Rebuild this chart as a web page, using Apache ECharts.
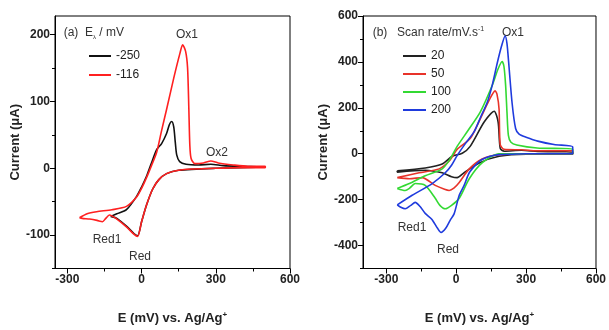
<!DOCTYPE html>
<html>
<head>
<meta charset="utf-8">
<script src="https://cdn.jsdelivr.net/npm/echarts@6/dist/echarts.min.js"></script>
<style>
  html, body { margin: 0; padding: 0; background: #fff; }
  #chart { width: 609px; height: 330px; }
</style>
</head>
<body>
<div id="chart"></div>
<script>
// [E (mV), I (uA)] - anodic branch left->right, then cathodic branch back
const curveA250 = [
  [-125, -72], [-100, -68], [-61, -62], [-20, -42], [0, -28], [20, -12], [40, 8],
  [61, 28], [81, 37], [101, 52], [113, 66], [122, 70], [130, 62], [136, 40], [142, 20],
  [154, 10], [180, 6], [230, 5], [280, 6], [330, 4], [400, 3], [500, 2],
  [500, 1], [300, 0], [150, -3], [101, -8], [70, -17], [45, -31], [20, -55], [0, -80],
  [-16, -101], [-30, -98], [-60, -87], [-100, -75], [-125, -72]
];
const curveA116 = [
  [-251, -74], [-220, -68], [-182, -65], [-120, -62], [-61, -57], [-20, -43], [0, -30],
  [20, -14], [40, 4], [61, 24], [80, 55], [101, 88], [130, 135], [155, 172], [166, 185],
  [178, 175], [186, 150], [191, 90], [195, 35], [200, 15], [215, 7], [250, 8], [280, 11],
  [310, 8], [370, 5], [430, 3], [500, 3],
  [500, 1], [400, 1], [300, 0], [200, -1], [150, -3], [101, -8], [70, -17], [45, -31],
  [20, -55], [0, -80], [-16, -102], [-30, -99], [-60, -88], [-100, -76], [-130, -70],
  [-145, -75], [-158, -80], [-180, -78], [-210, -76], [-240, -75], [-251, -74]
];
const curveB20 = [
  [-253, -74], [-133, -62], [-60, -45], [-17, -11], [26, 2], [60, 32], [120, 138],
  [163, 185], [180, 138], [189, 23], [206, 11], [280, 15], [350, 10], [500, 7],
  [500, -2], [300, -2], [184, -11], [99, -40], [34, -83], [4, -104], [-20, -100],
  [-60, -83], [-133, -72], [-253, -80], [-253, -74]
];
const curveB50 = [
  [-253, -104], [-159, -83], [-73, -66], [-30, -32], [4, 19], [60, 66], [103, 151],
  [140, 230], [167, 274], [175, 260], [184, 194], [189, 40], [206, 19], [280, 17],
  [347, 13], [500, 13],
  [500, -1], [300, -1], [184, -4], [111, -23], [56, -66], [13, -125], [-10, -150],
  [-30, -160], [-50, -155], [-90, -138], [-146, -104], [-201, -109], [-253, -104]
];
const curveB100 = [
  [-253, -151], [-201, -130], [-133, -96], [-60, -66], [-26, -23], [4, 32], [50, 100],
  [103, 181], [154, 296], [180, 370], [197, 402], [205, 380], [212, 300], [218, 180],
  [224, 80], [235, 50], [260, 38], [347, 25], [500, 20],
  [500, 0], [300, 0], [184, 0], [111, -40], [56, -109], [13, -194], [-20, -225],
  [-47, -240], [-70, -225], [-90, -194], [-133, -138], [-176, -130], [-200, -150],
  [-219, -160], [-253, -151]
];
const curveB200 = [
  [-253, -223], [-189, -181], [-103, -130], [-47, -83], [-20, -50], [4, -8], [40, 45],
  [77, 96], [105, 160], [133, 223], [155, 300], [176, 394], [195, 470], [210, 513],
  [218, 480], [225, 400], [240, 220], [255, 110], [270, 85], [300, 72], [350, 55],
  [420, 40], [500, 30],
  [500, 0], [400, 0], [300, 0], [240, -2], [184, -4], [146, -11], [111, -25], [90, -42],
  [56, -83], [34, -138], [13, -181], [-9, -262], [-26, -290], [-45, -325], [-65, -343],
  [-80, -325], [-105, -285], [-133, -260], [-155, -230], [-176, -212], [-195, -225],
  [-219, -240], [-240, -232], [-253, -223]
];

const xLabelsA = [-300, 0, 300, 600];
const xMinorA = [-150, 150, 450];
const yLabelsA = [-100, 0, 100, 200];
const yMinorA = [-150, -50, 50, 150];
const xLabelsB = [-300, 0, 300, 600];
const xMinorB = [-150, 150, 450];
const yLabelsB = [-400, -200, 0, 200, 400, 600];
const yMinorB = [-500, -300, -100, 100, 300, 500];

const FONT = 'Liberation Sans, Arial, sans-serif';

function mainAxis(grid, min, max, labels, extra) {
  return Object.assign({
    type: 'value', gridIndex: grid, min: min, max: max,
    axisLine: { show: true, onZero: false, lineStyle: { color: '#000', width: 1 } },
    axisTick: { show: true, customValues: labels, length: 5, lineStyle: { color: '#000' } },
    axisLabel: { customValues: labels, fontSize: 12, fontWeight: 'bold', color: '#222', fontFamily: FONT, margin: 5 },
    splitLine: { show: false },
    nameTextStyle: { fontSize: 13, fontWeight: 'bold', color: '#222', fontFamily: FONT,
      rich: { sup: { fontSize: 8, fontWeight: 'bold', verticalAlign: 'top', padding: [0, 0, 8, 0], fontFamily: FONT } } }
  }, extra);
}
function minorAxis(grid, min, max, minor, pos) {
  return {
    type: 'value', gridIndex: grid, min: min, max: max, position: pos,
    axisLine: { show: false, onZero: false },
    axisTick: { show: true, customValues: minor, length: 3, lineStyle: { color: '#000' } },
    axisLabel: { show: false },
    splitLine: { show: false }
  };
}
function cv(name, data, xi, color) {
  return {
    name: name, type: 'line', xAxisIndex: xi, yAxisIndex: xi, data: data,
    showSymbol: false, smooth: 0.25, lineStyle: { width: 1.6, color: color }, itemStyle: { color: color }
  };
}
function label(text, x, y, align) {
  return {
    type: 'text', x: x, y: y, silent: true,
    style: { text: text, fill: '#333', font: '12px ' + FONT, align: align || 'center', verticalAlign: 'middle' }
  };
}

const chart = echarts.init(document.getElementById('chart'));
chart.setOption({
  animation: false,
  grid: [
    { left: 55, top: 16, right: 319, bottom: 54, show: true, borderColor: '#000', borderWidth: 1 },
    { left: 363, top: 16, right: 11, bottom: 54, show: true, borderColor: '#000', borderWidth: 1 }
  ],
  xAxis: [
    mainAxis(0, -350, 600, xLabelsA, { position: 'bottom', name: 'E (mV) vs. Ag/Ag{sup|+}', nameLocation: 'middle', nameGap: 42 }),
    minorAxis(0, -350, 600, xMinorA, 'bottom'),
    mainAxis(1, -400, 600, xLabelsB, { position: 'bottom', name: 'E (mV) vs. Ag/Ag{sup|+}', nameLocation: 'middle', nameGap: 42 }),
    minorAxis(1, -400, 600, xMinorB, 'bottom')
  ],
  yAxis: [
    mainAxis(0, -150, 228, yLabelsA, { position: 'left', name: 'Current (\u03bcA)', nameLocation: 'middle', nameGap: 31 }),
    minorAxis(0, -150, 228, yMinorA, 'left'),
    mainAxis(1, -500, 600, yLabelsB, { position: 'left', name: 'Current (\u03bcA)', nameLocation: 'middle', nameGap: 30 }),
    minorAxis(1, -500, 600, yMinorB, 'left')
  ],
  legend: [
    { data: ['-250', '-116'], orient: 'vertical', left: 84, top: 45, icon: 'rect', itemWidth: 22, itemHeight: 2,
      itemGap: 7, textStyle: { fontSize: 12, color: '#222', fontFamily: FONT } },
    { data: ['20', '50', '100', '200'], orient: 'vertical', left: 398, top: 45, icon: 'rect', itemWidth: 23, itemHeight: 2,
      itemGap: 6, textStyle: { fontSize: 12, color: '#222', fontFamily: FONT } }
  ],
  series: [
    cv('-250', curveA250, 0, '#111111'),
    cv('-116', curveA116, 0, '#ff2020'),
    cv('20', curveB20, 2, '#222222'),
    cv('50', curveB50, 2, '#e8332a'),
    cv('100', curveB100, 2, '#33d933'),
    cv('200', curveB200, 2, '#1f3bdd')
  ],
  graphic: [
    label('(a)', 71, 33),
    {
      type: 'text', x: 85, y: 33, silent: true,
      style: {
        text: '{n|E}{s|\u03bb}{n| / mV}', verticalAlign: 'middle', fill: '#333',
        rich: { n: { fontSize: 12, fontFamily: FONT, fill: '#333' }, s: { fontSize: 6, fontFamily: FONT, fill: '#333', padding: [8, 0, 0, 0] } }
      }
    },
    label('Ox1', 187, 35),
    label('Ox2', 217, 153),
    label('Red1', 107, 240),
    label('Red', 140, 257),
    label('(b)', 380, 33),
    {
      type: 'text', x: 397, y: 33, silent: true,
      style: {
        text: '{n|Scan rate/mV.s}{s|-1}', verticalAlign: 'middle', fill: '#333',
        rich: { n: { fontSize: 12, fontFamily: FONT, fill: '#333' }, s: { fontSize: 7, fontFamily: FONT, fill: '#333', padding: [0, 0, 8, 0] } }
      }
    },
    label('Ox1', 513, 33),
    label('Red1', 412, 228),
    label('Red', 448, 250)
  ]
});
</script>
</body>
</html>
